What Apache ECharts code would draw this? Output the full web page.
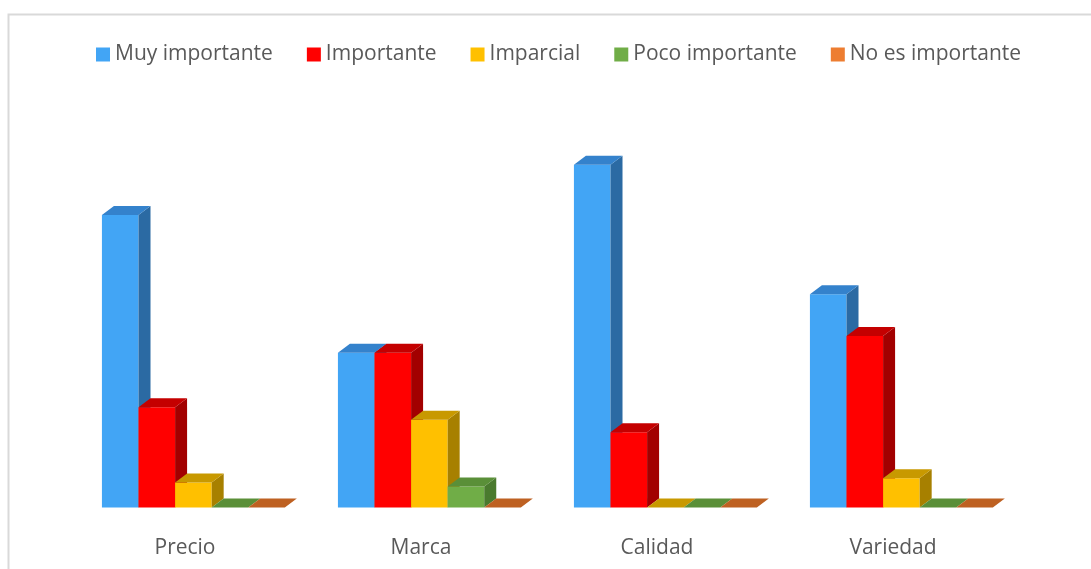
<!DOCTYPE html>
<html>
<head>
<meta charset="utf-8">
<script src="https://cdn.jsdelivr.net/npm/echarts@6/dist/echarts.min.js"></script>
<style>
  html, body { margin: 0; padding: 0; background: #ffffff; }
  #chart { width: 1091px; height: 569px; }
</style>
</head>
<body>
<div id="chart"></div>
<script>
// Survey answers per attribute (share of respondents)
const categories = ['Precio', 'Marca', 'Calidad', 'Variedad'];
const seriesNames = ['Muy importante', 'Importante', 'Imparcial', 'Poco importante', 'No es importante'];
const muyImportante = [70, 37, 82, 51];
const importante    = [24, 37, 18, 41];
const imparcial     = [6, 21, 0, 7];
const pocoImportante = [0, 5, 0, 0];
const noEsImportante = [0, 0, 0, 0];
const seriesValues = [muyImportante, importante, imparcial, pocoImportante, noEsImportante];

// Front / side / top shades for the pseudo-3D columns
const palette = [
  { front: '#42A5F5', side: '#2B6AA3', top: '#3482CC' },
  { front: '#FF0000', side: '#A20000', top: '#C40000' },
  { front: '#FFC000', side: '#A78000', top: '#C89900' },
  { front: '#70AD47', side: '#4A7A2E', top: '#5A8F38' },
  { front: '#ED7D31', side: '#A8531C', top: '#BE6122' }
];

const DEPTH_X = 12;
const DEPTH_Y = 9;

function makeRenderer(sIdx) {
  return function (params, api) {
    const cat = api.value(0);
    const val = api.value(1);
    const base = api.coord([cat, 0]);
    const topPt = api.coord([cat, val]);
    const band = api.size([1, 0])[0];
    const barW = band * 0.155;
    const x0 = base[0] - band * 0.352 + sIdx * barW;
    const x1 = x0 + barW;
    const yB = base[1];
    const yT = topPt[1];
    const c = palette[sIdx];
    const children = [];
    if (yB - yT > 0.5) {
      children.push({
        type: 'rect',
        shape: { x: x0, y: yT, width: barW, height: yB - yT },
        style: { fill: c.front }
      });
      children.push({
        type: 'polygon',
        shape: { points: [[x1, yT], [x1 + DEPTH_X, yT - DEPTH_Y], [x1 + DEPTH_X, yB - DEPTH_Y], [x1, yB]] },
        style: { fill: c.side }
      });
    }
    children.push({
      type: 'polygon',
      shape: { points: [[x0, yT], [x0 + DEPTH_X, yT - DEPTH_Y], [x1 + DEPTH_X, yT - DEPTH_Y], [x1, yT]] },
      style: { fill: c.top }
    });
    return { type: 'group', children: children };
  };
}

const chart = echarts.init(document.getElementById('chart'), null, { renderer: 'canvas' });

const series = seriesNames.map(function (name, i) {
  return {
    name: name,
    type: 'custom',
    renderItem: makeRenderer(i),
    itemStyle: { color: palette[i].front },
    encode: { x: 0, y: 1 },
    data: categories.map(function (_, k) { return [k, seriesValues[i][k]]; }),
    z: 2 + i
  };
});

chart.setOption({
  animation: false,
  textStyle: { fontFamily: '"Open Sans", "Noto Sans", sans-serif' },
  graphic: [{
    type: 'rect',
    shape: { x: 8.5, y: 14.5, width: 1200, height: 700 },
    style: { fill: 'none', stroke: '#D9D9D9', lineWidth: 2 },
    silent: true
  }],
  legend: {
    top: 44,
    left: 96,
    padding: 0,
    itemWidth: 14,
    itemHeight: 14,
    itemGap: 34,
    icon: 'rect',
    textStyle: { color: '#595959', fontSize: 21, fontFamily: '"Open Sans", sans-serif' },
    data: seriesNames
  },
  grid: { left: 67, right: 80, top: 89.5, bottom: 61.5 },
  xAxis: {
    type: 'category',
    data: categories,
    axisLine: { show: false },
    axisTick: { show: false },
    axisLabel: { color: '#595959', fontSize: 21, margin: 30, fontFamily: '"Open Sans", sans-serif' }
  },
  yAxis: {
    type: 'value',
    min: 0,
    max: 100,
    show: false,
    splitLine: { show: false }
  },
  series: series
});
</script>
</body>
</html>
